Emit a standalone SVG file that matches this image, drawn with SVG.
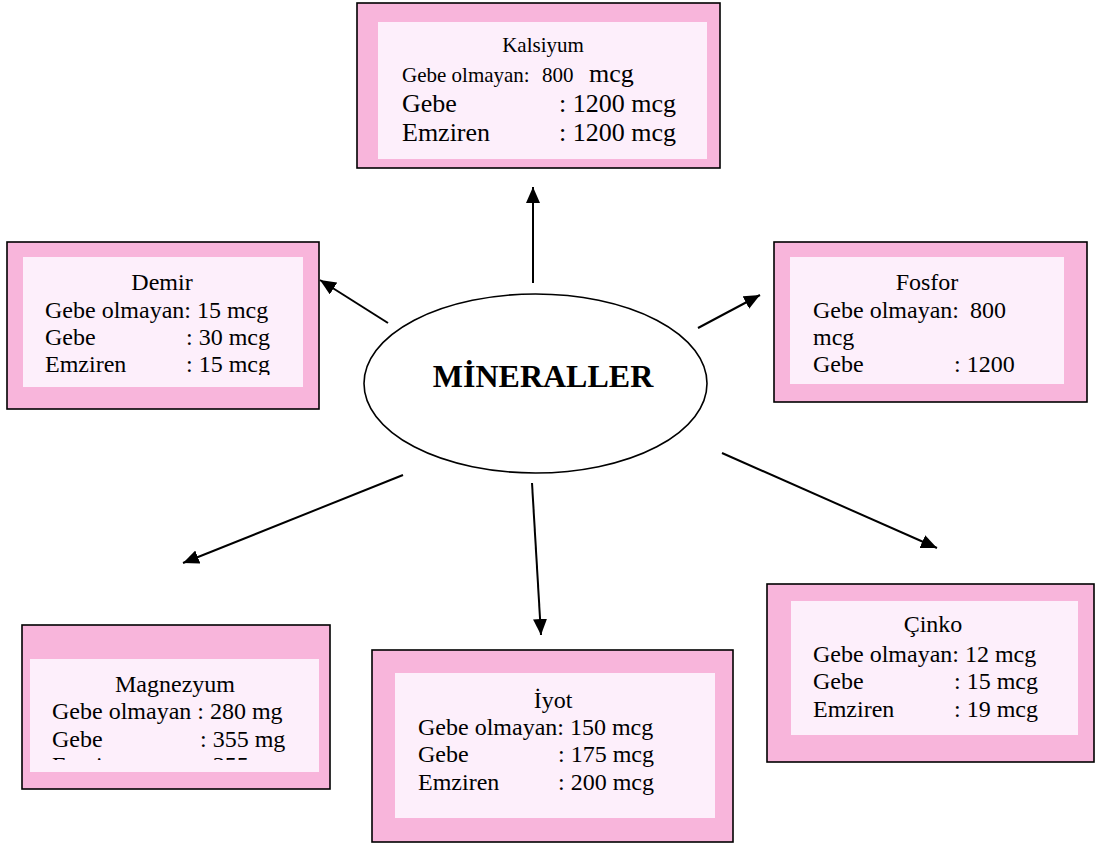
<svg xmlns="http://www.w3.org/2000/svg" width="1098" height="846" viewBox="0 0 1098 846">
<style>
.outer{fill:#F8B5DB;stroke:#000;stroke-width:1.6}
.inner{fill:#FDEFFB;stroke:none}
.t{font-family:"Liberation Serif","Times New Roman",serif;font-size:24px;fill:#000}
.c{text-anchor:middle}
.conn line{stroke:#000;stroke-width:2}
</style>
<defs>
<marker id="ah" markerUnits="userSpaceOnUse" markerWidth="18" markerHeight="14" refX="16" refY="7" orient="auto">
<path d="M0,0 L16,7 L0,14 z" fill="#000"/>
</marker>
<clipPath id="clipDemir"><rect x="23" y="257" width="280" height="118"/></clipPath>
<clipPath id="clipMag"><rect x="30" y="659" width="289" height="101"/></clipPath>
</defs>
<rect width="1098" height="846" fill="#fff"/>

<g id="kalsiyum">
<rect class="outer" x="357" y="3" width="363" height="165"/>
<rect class="inner" x="378" y="22" width="329" height="137"/>
<text class="t c" x="543" y="52" style="font-size:21px">Kalsiyum</text>
<text class="t" x="402" y="82" style="font-size:21px">Gebe olmayan:<tspan x="542">800</tspan><tspan x="589" style="font-size:26px">mcg</tspan></text>
<text class="t" x="402" y="112" style="font-size:26px">Gebe<tspan x="559">: 1200 mcg</tspan></text>
<text class="t" x="402" y="141" style="font-size:26px">Emziren<tspan x="559">: 1200 mcg</tspan></text>
</g>

<g id="demir">
<rect class="outer" x="7" y="242" width="312" height="167"/>
<rect class="inner" x="23" y="257" width="280" height="130"/>
<g clip-path="url(#clipDemir)">
<text class="t c" x="162" y="290">Demir</text>
<text class="t" x="45" y="318">Gebe olmayan: 15 mcg</text>
<text class="t" x="45" y="345">Gebe<tspan x="186">: 30 mcg</tspan></text>
<text class="t" x="45" y="372">Emziren<tspan x="186">: 15 mcg</tspan></text>
</g>
</g>

<g id="fosfor">
<rect class="outer" x="774" y="242" width="313" height="160"/>
<rect class="inner" x="790" y="257" width="274" height="127"/>
<text class="t c" x="927" y="290">Fosfor</text>
<text class="t" x="813" y="318">Gebe olmayan:<tspan x="970">800</tspan></text>
<text class="t" x="813" y="345">mcg</text>
<text class="t" x="813" y="372">Gebe<tspan x="954">: 1200</tspan></text>
</g>

<g id="magnezyum">
<rect class="outer" x="22" y="625" width="308" height="164"/>
<rect class="inner" x="30" y="659" width="289" height="113"/>
<g clip-path="url(#clipMag)">
<text class="t c" x="175" y="692">Magnezyum</text>
<text class="t" x="52" y="719">Gebe olmayan : 280 mg</text>
<text class="t" x="52" y="747">Gebe<tspan x="200">: 355 mg</tspan></text>
<text class="t" x="52" y="773">Emziren<tspan x="200">: 355 mg</tspan></text>
</g>
</g>

<g id="iyot">
<rect class="outer" x="372" y="650" width="361" height="192"/>
<rect class="inner" x="395" y="673" width="320" height="145"/>
<text class="t c" x="553" y="708">İyot</text>
<text class="t" x="418" y="735">Gebe olmayan: 150 mcg</text>
<text class="t" x="418" y="762">Gebe<tspan x="558">: 175 mcg</tspan></text>
<text class="t" x="418" y="790">Emziren<tspan x="558">: 200 mcg</tspan></text>
</g>

<g id="cinko">
<rect class="outer" x="767" y="584" width="327" height="178"/>
<rect class="inner" x="791" y="601" width="287" height="134"/>
<text class="t c" x="933" y="632">Çinko</text>
<text class="t" x="813" y="662">Gebe olmayan: 12 mcg</text>
<text class="t" x="813" y="689">Gebe<tspan x="954">: 15 mcg</tspan></text>
<text class="t" x="813" y="717">Emziren<tspan x="954">: 19 mcg</tspan></text>
</g>

<g id="mineraller">
<ellipse cx="535.5" cy="383.5" rx="171.5" ry="89.5" fill="#fff" stroke="#000" stroke-width="1.6"/>
<text class="t c" x="543" y="387" style="font-size:32px;font-weight:bold">MİNERALLER</text>
</g>

<g id="connectors" class="conn">
<line x1="533" y1="283" x2="533" y2="187" marker-end="url(#ah)"/>
<line x1="388" y1="323" x2="320" y2="280" marker-end="url(#ah)"/>
<line x1="698" y1="328" x2="760" y2="295" marker-end="url(#ah)"/>
<line x1="403" y1="475" x2="183" y2="563" marker-end="url(#ah)"/>
<line x1="532" y1="483" x2="541" y2="635" marker-end="url(#ah)"/>
<line x1="722" y1="453" x2="937" y2="548" marker-end="url(#ah)"/>
</g>
</svg>
